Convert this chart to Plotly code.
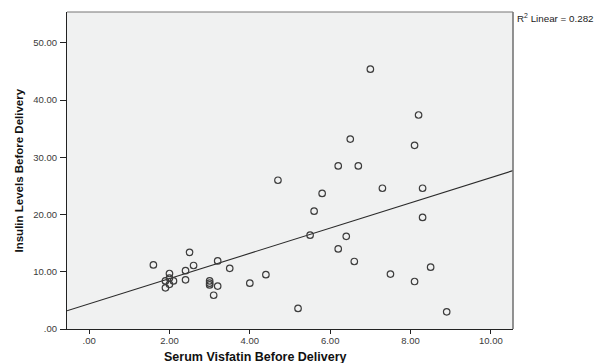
import numpy as np
import plotly.graph_objects as go

# Serum visfatin (x) and insulin levels (y) before delivery
visfatin = [1.6, 2.0, 1.9, 2.0, 2.1, 1.9, 2.0, 2.5, 2.4, 2.6, 2.4, 3.2, 3.5,
            3.0, 3.0, 3.0, 3.2, 3.1, 4.0, 4.4, 5.2, 4.7, 5.5, 5.6, 5.8, 6.2,
            6.7, 6.4, 6.2, 6.6, 7.3, 7.0, 8.2, 6.5, 8.1, 8.3, 8.3, 7.5, 8.1,
            8.5, 8.9]
insulin = [11.2, 9.7, 8.4, 8.9, 8.4, 7.2, 7.8, 13.4, 10.2, 11.1, 8.6, 11.9,
           10.6, 8.4, 8.0, 7.7, 7.5, 5.9, 8.0, 9.5, 3.6, 26.0, 16.4, 20.6,
           23.7, 28.5, 28.5, 16.2, 14.0, 11.8, 24.6, 45.4, 37.4, 33.2, 32.1,
           24.6, 19.5, 9.6, 8.3, 10.8, 3.0]

x_ticks = [0, 2, 4, 6, 8, 10]
x_tick_text = [".00", "2.00", "4.00", "6.00", "8.00", "10.00"]
y_ticks = [0, 10, 20, 30, 40, 50]
y_tick_text = [".00", "10.00", "20.00", "30.00", "40.00", "50.00"]
r2_label = "0.282"

x_range = [-0.55, 10.55]
y_range = [0, 55.4]

# Least-squares fit line across the full x range
slope, intercept = np.polyfit(visfatin, insulin, 1)
fit_x = np.array(x_range)
fit_y = intercept + slope * fit_x

font = "Liberation Sans, Arial, sans-serif"

fig = go.Figure()
fig.add_trace(go.Scatter(
    x=fit_x, y=fit_y, mode="lines",
    line=dict(color="#2b2b2b", width=1.1),
    hoverinfo="skip", showlegend=False,
))
fig.add_trace(go.Scatter(
    x=visfatin, y=insulin, mode="markers",
    marker=dict(symbol="circle-open", size=6.5,
                color="#3c3c3c", line=dict(width=1.2, color="#3c3c3c")),
    showlegend=False,
))

fig.update_layout(
    width=595, height=363,
    margin=dict(l=67, r=82, t=12, b=34),
    paper_bgcolor="white",
    plot_bgcolor="#f0f1f1",
    font=dict(family=font, size=9, color="#333333"),
    xaxis=dict(
        range=x_range, tickvals=x_ticks, ticktext=x_tick_text,
        showgrid=False, zeroline=False,
        showline=True, linecolor="#222222", linewidth=1.2,
        ticks="outside", ticklen=4, tickcolor="#222222", tickwidth=1,
        ticklabelstandoff=-2,
        tickfont=dict(size=9.5, color="#3a3a3a"),
    ),
    yaxis=dict(
        range=y_range, tickvals=y_ticks, ticktext=y_tick_text,
        showgrid=False, zeroline=False,
        showline=True, linecolor="#222222", linewidth=1.2,
        ticks="outside", ticklen=6, tickcolor="#222222", tickwidth=1,
        ticklabelstandoff=1,
        tickfont=dict(size=9.5, color="#3a3a3a"),
    ),
    shapes=[
        dict(type="line", xref="paper", yref="paper", x0=0, x1=1, y0=1, y1=1,
             line=dict(color="#777777", width=1.2)),
        dict(type="line", xref="paper", yref="paper", x0=1, x1=1, y0=0, y1=1,
             line=dict(color="#777777", width=1.6)),
    ],
    annotations=[
        dict(text="<b>Serum Visfatin Before Delivery</b>", xref="paper",
             yref="paper", x=(255 - 67) / 446, y=0, yshift=-19,
             xanchor="center", yanchor="top", showarrow=False,
             font=dict(size=12.5, color="#111111")),
        dict(text="<b>Insulin Levels Before Delivery</b>", xref="paper",
             yref="paper", x=0, xshift=-49, y=0.5, textangle=-90,
             xanchor="center", yanchor="middle", showarrow=False,
             font=dict(size=11.5, color="#111111")),
        dict(text="R<sup>2</sup> Linear = " + r2_label, xref="paper",
             yref="paper", x=1, xshift=2, y=1, yshift=2,
             xanchor="left", yanchor="top", showarrow=False,
             font=dict(size=9.8, color="#222222")),
    ],
)

fig.write_html("out.html")
